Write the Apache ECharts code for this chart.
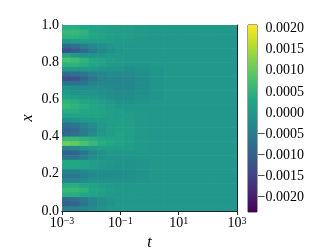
<!DOCTYPE html>
<html><head><meta charset="utf-8">
<script src="https://cdn.jsdelivr.net/npm/echarts@6/dist/echarts.min.js"></script>
<style>html,body{margin:0;padding:0;background:#fff}#c{width:312px;height:249px}</style>
</head><body><div id="c"></div>
<script>
// time bin edges (t), log-spaced
const tEdges = [0.001, 0.002, 0.004, 0.008, 0.016, 0.032, 0.063, 0.126, 0.316, 1, 3.16, 10, 100, 1000];
// x bin edges
const xEdges = [0,0.025,0.05,0.075,0.1,0.125,0.15,0.175,0.2,0.225,0.25,0.275,0.3,0.325,0.35,0.375,0.4,0.425,0.45,0.475,0.5,0.525,0.55,0.575,0.6,0.625,0.65,0.675,0.7,0.725,0.75,0.775,0.8,0.825,0.85,0.875,0.9,0.925,0.95,0.975,1];
const tTicks = [0.001, 0.1, 10, 1000];
const xTicks = [0, 0.2, 0.4, 0.6, 0.8, 1.0];
const cbMin = -0.00234, cbMax = 0.00208;
// field values in units of 1e-4; rows from x=1 (top) down to x=0, columns follow tEdges bins
const fieldE4 = [
 [4, 4, 3, 2, 2, 1, 1, 1, 0.5, 0, 0, 0, 0],
 [6, 6, 5, 3, 2, 1.5, 1, 1, 0.5, 0, 0, 0, 0],
 [5, 5, 4, 3, 2, 1.5, 1, 1, 0.5, 0, 0, 0, 0],
 [0, 1, 1, 1, 1, 1, 0.5, 0.5, 0, 0, 0, 0, 0],
 [-8, -7, -5, -3, -1.5, -0.5, 0, 0, 0, 0, 0, 0, 0],
 [-13, -11, -8, -5, -3, -1.5, -0.5, 0, 0, 0, 0, 0, 0],
 [2, 0, -1, -1, -0.5, 0, 0, 0, 0, 0, 0, 0, 0],
 [8, 7, 5, 3, 2, 1, 0.5, 0, 0, 0, 0, 0, 0],
 [5, 5, 4, 2.5, 1.5, 0.5, 0, -0.5, -0.5, 0, 0, 0, 0],
 [0, 0, 0, 0, -0.5, -1, -1, -1.5, -1, -0.5, 0, 0, 0],
 [-8, -7, -6, -4, -3, -2.5, -2.5, -2.5, -1.5, -0.5, 0, 0, 0],
 [-13, -12, -9, -6, -4, -3, -3, -3, -2, -0.5, 0, 0, 0],
 [-7, -7, -6, -4, -3, -3, -3, -3, -2, -0.5, 0, 0, 0],
 [-1, -2, -2, -2, -2, -2.5, -3, -3, -2, -0.5, 0, 0, 0],
 [0, -1, -1, -1, -1.5, -2, -2.5, -2.5, -1.5, -0.5, 0, 0, 0],
 [2, 1, 0, 0, -0.5, -1.5, -2, -2, -1, -0.5, 0, 0, 0],
 [5, 4, 3, 2, 1, 0, -1, -1, -0.5, 0, 0, 0, 0],
 [6, 5, 4, 3, 2, 1, 0, 0, 0, 0, 0, 0, 0],
 [4, 4, 3, 2.5, 2, 1.5, 1, 0.5, 0, 0, 0, 0, 0],
 [2, 2, 2, 2, 2, 1.5, 1, 1, 0.5, 0, 0, 0, 0],
 [-2, -1, 0, 0.5, 1, 1.5, 1.5, 1, 0.5, 0, 0, 0, 0],
 [-7, -6, -4, -2, 0, 1, 1.5, 1.5, 0.5, 0, 0, 0, 0],
 [-9, -8, -5, -3, -0.5, 1, 1.5, 1.5, 0.5, 0, 0, 0, 0],
 [-8, -7, -5, -2, 0, 1, 2, 1.5, 0.5, 0, 0, 0, 0],
 [6, 6, 5, 4, 3, 2.5, 2, 1.5, 0.5, 0, 0, 0, 0],
 [11, 10, 8, 6, 4, 3, 2, 1.5, 0.5, 0, 0, 0, 0],
 [-4, -3, -1, 0, 1, 1, 1, 1, 0.5, 0, 0, 0, 0],
 [-10, -9, -6, -3, -1, 0, 0, 0, 0, 0, 0, 0, 0],
 [-6, -6, -4, -2, -1, -0.5, -0.5, -0.5, 0, 0, 0, 0, 0],
 [3, 3, 2, 1, 0.5, 0, -0.5, -1, -0.5, 0, 0, 0, 0],
 [3, 3, 2, 1, 0, -0.5, -1, -1, -0.5, 0, 0, 0, 0],
 [-4, -4, -3, -2, -1.5, -1.5, -1.5, -1.5, -1, 0, 0, 0, 0],
 [-6, -6, -4, -3, -2, -2, -2, -1.5, -1, 0, 0, 0, 0],
 [-3, -3, -2, -1, -1, -1, -1, -1, -0.5, 0, 0, 0, 0],
 [4, 4, 3, 2, 1, 0.5, 0, 0, 0, 0, 0, 0, 0],
 [6, 6, 5, 3, 2, 1, 0.5, 0, 0, 0, 0, 0, 0],
 [4, 4, 3, 2, 1, 0.5, 0, 0, 0, 0, 0, 0, 0],
 [-8, -7, -5, -3, -1.5, -0.5, 0, 0, 0, 0, 0, 0, 0],
 [-10, -9, -6, -4, -2, -1, 0, 0, 0, 0, 0, 0, 0],
 [-4, -4, -3, -2, -1, 0, 0, 0, 0, 0, 0, 0, 0]
];
const viridis = ['#440154','#482475','#414487','#355f8d','#2a788e','#21918c','#22a884','#44bf70','#7ad151','#bddf26','#fde725'];

const cells = [];
const nRows = fieldE4.length;
for (let i = 0; i < nRows; i++) {
  const x1 = xEdges[nRows - i], x0 = xEdges[nRows - i - 1];
  for (let j = 0; j < fieldE4[i].length; j++) {
    cells.push([tEdges[j], tEdges[j + 1], x0, x1, fieldE4[i][j] * 1e-4]);
  }
}

const FONT = 'Liberation Serif';
const axisLineStyle = {color: '#222', width: 1};
const chart = echarts.init(document.getElementById('c'), null, {renderer: 'canvas'});
const supFmt = v => {
  const e = Math.round(Math.log10(v));
  return '{b|10}{s|' + (e < 0 ? '\u2212' : '') + Math.abs(e) + '}';
};
chart.setOption({
  animation: false,
  backgroundColor: '#fff',
  grid: [
    {left: 62, top: 25, width: 175, height: 186, containLabel: false, outerBoundsMode: 'none'},
    {left: 248, top: 25, width: 9, height: 187, show: true, borderColor: '#444', borderWidth: 1, backgroundColor: 'transparent', containLabel: false, outerBoundsMode: 'none'}
  ],
  visualMap: {
    type: 'continuous', show: false, seriesIndex: 0, dimension: 4,
    min: cbMin, max: cbMax, inRange: {color: viridis}
  },
  xAxis: [
    {type: 'log', gridIndex: 0, min: 0.001, max: 1000, logBase: 10, position: 'bottom',
     name: 't', nameLocation: 'middle', nameGap: 24, nameMoveOverlap: false,
     nameTextStyle: {fontFamily: FONT, fontStyle: 'italic', fontSize: 16, color: '#000'},
     axisLine: {show: true, lineStyle: axisLineStyle},
     axisTick: {show: true, inside: true, length: 4, lineStyle: axisLineStyle, customValues: tTicks},
     axisLabel: {show: true, margin: 5, customValues: tTicks, formatter: supFmt,
       rich: {b: {fontFamily: FONT, fontSize: 14, color: '#000', verticalAlign: 'bottom'},
              s: {fontFamily: FONT, fontSize: 10, color: '#000', verticalAlign: 'top'}}},
     splitLine: {show: false}, minorTick: {show: false}},
    {type: 'log', gridIndex: 0, min: 0.001, max: 1000, logBase: 10, position: 'top',
     axisLine: {show: true, lineStyle: axisLineStyle},
     axisTick: {show: true, inside: true, length: 4, lineStyle: axisLineStyle, customValues: tTicks},
     axisLabel: {show: false}, splitLine: {show: false}},
    {type: 'value', gridIndex: 1, min: 0, max: 1, show: false}
  ],
  yAxis: [
    {type: 'value', gridIndex: 0, min: 0, max: 1, interval: 0.2, position: 'left',
     name: 'x', nameLocation: 'middle', nameGap: 26, nameRotate: 90, nameMoveOverlap: false,
     nameTextStyle: {fontFamily: FONT, fontStyle: 'italic', fontSize: 16, color: '#000'},
     axisLine: {show: true, lineStyle: axisLineStyle},
     axisTick: {show: true, inside: true, length: 4, lineStyle: axisLineStyle},
     minorTick: {show: true, splitNumber: 4, length: 2, lineStyle: {color: '#222', width: 1}},
     axisLabel: {margin: 3, fontFamily: FONT, fontSize: 14, color: '#000', formatter: v => v.toFixed(1)},
     splitLine: {show: false}},
    {type: 'value', gridIndex: 0, min: 0, max: 1, interval: 0.2, position: 'right',
     axisLine: {show: true, lineStyle: axisLineStyle},
     axisTick: {show: true, inside: true, length: 4, lineStyle: axisLineStyle},
     axisLabel: {show: false}, splitLine: {show: false}},
    {type: 'value', gridIndex: 1, min: cbMin, max: cbMax, splitNumber: 9, position: 'right',
     axisLine: {show: false},
     axisTick: {show: true, inside: false, length: 3, lineStyle: axisLineStyle},
     axisLabel: {showMinLabel: false, showMaxLabel: false, align: 'right', margin: 47,
       fontFamily: FONT, fontSize: 14, color: '#000',
       formatter: v => (v < -1e-9 ? '\u2212' : '') + Math.abs(v).toFixed(4)},
     splitLine: {show: false}}
  ],
  series: [
    {type: 'custom', xAxisIndex: 0, yAxisIndex: 0, clip: true, data: cells,
     encode: {x: [0, 1], y: [2, 3]},
     renderItem: function (params, api) {
       const p0 = api.coord([api.value(0), api.value(3)]);
       const p1 = api.coord([api.value(1), api.value(2)]);
       return {type: 'rect', shape: {x: p0[0], y: p0[1], width: p1[0] - p0[0] + 0.6, height: p1[1] - p0[1] + 0.6},
               style: {fill: api.visual('color')}};
     }},
    {type: 'custom', xAxisIndex: 2, yAxisIndex: 2, clip: false, data: [[0, cbMin, 1, cbMax]],
     renderItem: function (params, api) {
       const p0 = api.coord([api.value(0), api.value(3)]);
       const p1 = api.coord([api.value(2), api.value(1)]);
       return {type: 'rect', shape: {x: p0[0], y: p0[1], width: p1[0] - p0[0], height: p1[1] - p0[1]},
               style: {fill: {type: 'linear', x: 0, y: 1, x2: 0, y2: 0,
                 colorStops: viridis.map((c, k) => ({offset: k / (viridis.length - 1), color: c}))}}};
     }}
  ]
});
</script></body></html>
